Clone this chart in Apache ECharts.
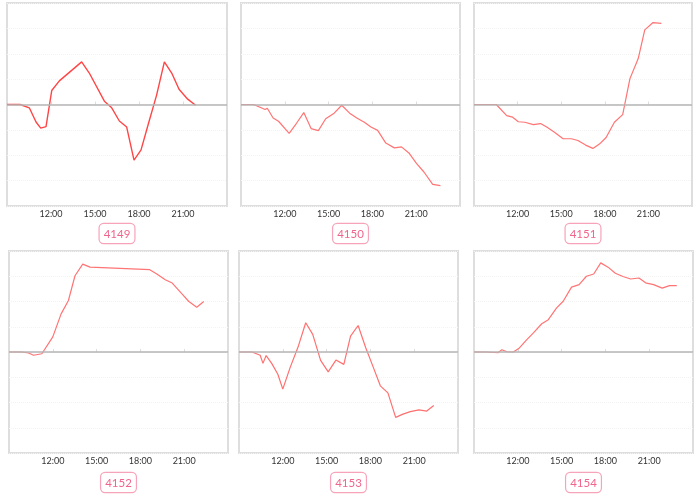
<!DOCTYPE html>
<html>
<head>
<meta charset="utf-8">
<script src="https://cdn.jsdelivr.net/npm/echarts@6/dist/echarts.min.js"></script>
<style>html,body{margin:0;padding:0;background:#fff}#c{width:700px;height:497px}</style>
</head>
<body>
<div id="c"></div>
<script>
const panelNames = ['4149', '4150', '4151', '4152', '4153', '4154'];
const tickHours = [12, 15, 18, 21];

const hours4149 = [9.0, 9.89, 10.52, 10.98, 11.30, 11.66, 12.05, 12.57, 14.09, 14.61, 15.64, 16.14, 16.66, 17.16, 17.66, 18.14, 18.64, 19.20, 19.73, 20.23, 20.73, 21.32, 21.86];
const values4149 = [0, 0, -0.13, -0.69, -0.93, -0.87, 0.55, 0.93, 1.68, 1.24, 0.13, -0.13, -0.65, -0.89, -2.19, -1.79, -0.76, 0.37, 1.68, 1.24, 0.6, 0.21, -0.03];

const hours4150 = [9.0, 9.86, 10.5, 10.65, 10.8, 11.2, 11.57, 12.3, 12.8, 13.3, 13.8, 14.3, 14.8, 15.38, 15.9, 16.44, 16.96, 17.45, 17.9, 18.36, 18.92, 19.5, 19.99, 20.5, 21.03, 21.53, 22.13, 22.66];
const values4150 = [0, 0, -0.16, -0.2, -0.15, -0.53, -0.66, -1.14, -0.74, -0.32, -0.95, -1.03, -0.56, -0.34, -0.03, -0.34, -0.54, -0.70, -0.89, -1.02, -1.52, -1.71, -1.67, -1.91, -2.33, -2.66, -3.15, -3.2];

const hours4151 = [9.0, 10.53, 11.25, 11.66, 12.05, 12.5, 13.08, 13.58, 14.03, 14.56, 15.13, 15.7, 16.15, 16.68, 17.18, 17.63, 18.09, 18.66, 19.23, 19.73, 20.3, 20.75, 21.32, 21.89];
const values4151 = [0, 0, -0.44, -0.5, -0.68, -0.7, -0.79, -0.75, -0.9, -1.1, -1.35, -1.35, -1.42, -1.6, -1.73, -1.56, -1.3, -0.7, -0.4, 1.02, 1.81, 2.94, 3.23, 3.2];

const hours4152 = [9.0, 9.89, 10.34, 10.68, 11.25, 12.0, 12.57, 13.07, 13.52, 14.05, 14.55, 18.64, 19.1, 19.7, 20.18, 20.8, 21.32, 21.86, 22.34];
const values4152 = [0, 0, -0.04, -0.13, -0.07, 0.6, 1.51, 2.04, 3.02, 3.48, 3.36, 3.26, 3.1, 2.86, 2.73, 2.33, 2.0, 1.77, 2.0];

const hours4153 = [9.0, 9.89, 10.45, 10.64, 10.86, 11.25, 11.66, 12.0, 12.5, 13.07, 13.57, 14.05, 14.59, 15.11, 15.64, 16.18, 16.64, 17.16, 17.68, 18.18, 18.68, 19.2, 19.73, 20.23, 20.73, 21.32, 21.86, 22.34];
const values4153 = [0, 0, -0.13, -0.45, -0.14, -0.46, -0.88, -1.47, -0.62, 0.24, 1.16, 0.7, -0.33, -0.79, -0.32, -0.49, 0.63, 1.05, 0.17, -0.58, -1.34, -1.62, -2.59, -2.46, -2.36, -2.29, -2.34, -2.12];

const hours4154 = [9.0, 9.84, 10.64, 10.91, 11.25, 11.7, 12.11, 12.57, 13.07, 13.64, 14.09, 14.66, 15.11, 15.68, 16.2, 16.7, 17.2, 17.68, 18.18, 18.68, 19.2, 19.73, 20.3, 20.75, 21.3, 21.89, 22.39, 22.89];
const values4154 = [0, 0, -0.03, 0.09, 0.01, 0, 0.16, 0.46, 0.76, 1.12, 1.28, 1.75, 2.01, 2.57, 2.67, 3.0, 3.09, 3.53, 3.36, 3.12, 2.99, 2.89, 2.93, 2.74, 2.67, 2.53, 2.63, 2.63];

const panelHours = [hours4149, hours4150, hours4151, hours4152, hours4153, hours4154];
const panelValues = [values4149, values4150, values4151, values4152, values4153, values4154];

const gridBoxes = [
  {left: 7, top: 3, width: 220, height: 203},
  {left: 241, top: 3, width: 219, height: 203},
  {left: 474, top: 3, width: 218, height: 203},
  {left: 9, top: 251, width: 219, height: 202},
  {left: 239, top: 251, width: 219, height: 202},
  {left: 474, top: 251, width: 219, height: 202}
];
const nameGaps = [18, 18, 18, 20, 20, 20];
const lineColors = ['#ff4646', '#ff7474', '#ff7474', '#ff7474', '#ff7070', '#ff7474'];

const grid = [], xAxis = [], yAxis = [], series = [];
panelNames.forEach((name, i) => {
  grid.push(Object.assign({show: true, borderColor: '#dedede', borderWidth: 2, backgroundColor: '#fff'}, gridBoxes[i]));
  xAxis.push({
    type: 'value', gridIndex: i, min: 9, max: 24, interval: 3,
    name: name, nameLocation: 'middle', nameGap: nameGaps[i],
    nameTextStyle: {
      color: '#f0658c', fontSize: 11.5, fontFamily: 'Lato, sans-serif',
      borderColor: '#f7a3b9', borderWidth: 1.2, borderRadius: 4,
      padding: [4, 4, 3, 4], backgroundColor: '#fff'
    },
    axisLine: {show: false},
    axisTick: {show: true, inside: true, length: 3, lineStyle: {color: '#ddd'}},
    splitLine: {show: false},
    axisLabel: {
      showMinLabel: false, showMaxLabel: false, margin: 4,
      fontSize: 9, color: '#333', fontFamily: 'Lato, sans-serif',
      formatter: v => (tickHours.indexOf(v) >= 0 ? v + ':00' : '')
    }
  });
  yAxis.push({
    type: 'value', gridIndex: i, min: -4, max: 4, interval: 1,
    axisLine: {show: false}, axisTick: {show: false}, axisLabel: {show: false},
    splitLine: {show: true, lineStyle: {color: '#f3f3f3', type: 'dotted', width: 1}}
  });
  series.push({
    type: 'line', xAxisIndex: i, yAxisIndex: i, symbol: 'none',
    data: panelHours[i].map((h, k) => [h, panelValues[i][k]]),
    lineStyle: {color: lineColors[i], width: i === 0 ? 1.4 : 1.2},
    markLine: {
      silent: true, symbol: 'none', label: {show: false},
      lineStyle: {color: '#b4b4b4', width: 1.5, type: 'solid'},
      data: [{yAxis: 0}]
    },
    z: 3
  });
});

const chart = echarts.init(document.getElementById('c'), null, {renderer: 'canvas'});
chart.setOption({animation: false, grid, xAxis, yAxis, series});
</script>
</body>
</html>
